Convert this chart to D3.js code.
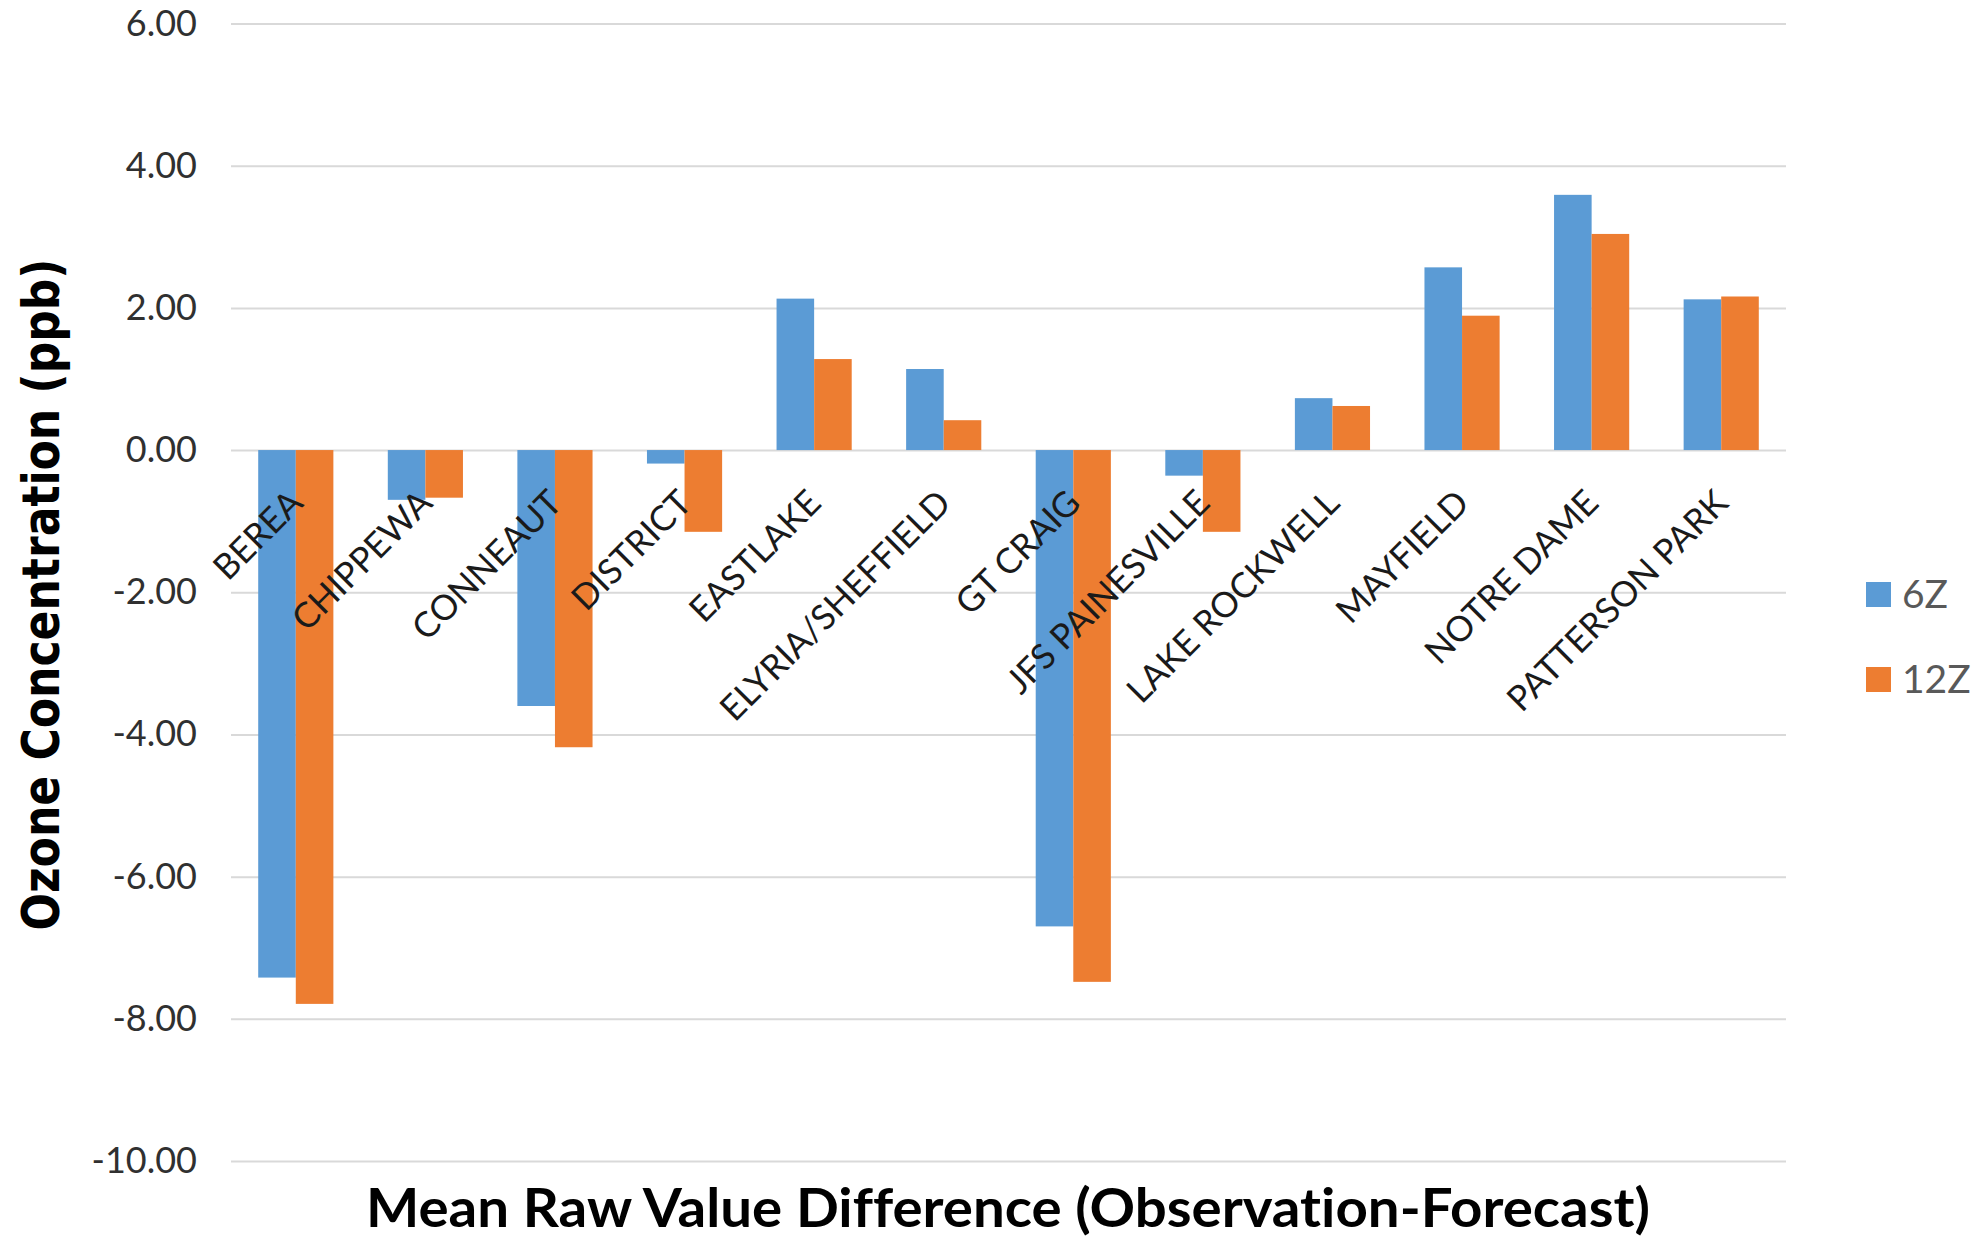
<!DOCTYPE html>
<html>
<head>
<meta charset="utf-8">
<script src="https://cdn.jsdelivr.net/npm/d3@7"></script>
<style>
  body { margin: 0; background: #fff; }
  #chart svg { display: block; }
  #chart text { font-variant-ligatures: none; }
</style>
</head>
<body>
<div id="chart"></div>
<script>
// Mean raw value difference per site, two forecast runs

const sites = [
  "BEREA", "CHIPPEWA", "CONNEAUT", "DISTRICT", "EASTLAKE", "ELYRIA/SHEFFIELD",
  "GT CRAIG", "JFS PAINESVILLE", "LAKE ROCKWELL", "MAYFIELD", "NOTRE DAME", "PATTERSON PARK",
]
const seriesNames = ["6Z", "12Z"]
const values6Z = [-7.42, -0.70, -3.60, -0.19, 2.13, 1.14, -6.70, -0.36, 0.73, 2.57, 3.59, 2.12]
const values12Z = [-7.79, -0.67, -4.18, -1.15, 1.28, 0.42, -7.48, -1.15, 0.62, 1.89, 3.04, 2.16]
const yTicks = [6, 4, 2, 0, -2, -4, -6, -8, -10]

const colors = { "6Z": "#5B9BD5", "12Z": "#ED7D31" }

const width = 1978
const height = 1240
const plot = { left: 231, right: 1786, top: 23.5, bottom: 1161 }

const svg = d3.select("#chart").append("svg").attr("width", width).attr("height", height)

const data = sites.map((site, i) => ({ site, "6Z": values6Z[i], "12Z": values12Z[i] }))

// Scales
const x0 = d3.scaleBand().domain(sites).range([plot.left, plot.right]).paddingInner(0.42).paddingOuter(0.21)
const x1 = d3.scaleBand().domain(seriesNames).range([0, x0.bandwidth()])
const y = d3.scaleLinear().domain([-10, 6]).range([plot.bottom, plot.top])

// Gridlines + tick labels (plain hyphen for negatives, like the original)
const fmt = d3.format(".2f")
const yAxis = d3
  .axisLeft(y)
  .tickValues(yTicks)
  .tickSize(-(plot.right - plot.left))
  .tickPadding(34)
  .tickFormat((d) => fmt(d).replace("\u2212", "-"))

const gy = svg.append("g").attr("transform", `translate(${plot.left},0)`).call(yAxis)
gy.select(".domain").remove()
gy.selectAll(".tick line").attr("stroke", "#D9D9D9").attr("stroke-width", 2)
gy.selectAll(".tick text")
  .attr("fill", "#303030")
  .style("font-family", "Lato, sans-serif")
  .style("font-size", "36px")

// Bars
const groups = svg
  .append("g")
  .selectAll("g")
  .data(data)
  .join("g")
  .attr("transform", (d) => `translate(${x0(d.site)},0)`)

groups
  .selectAll("rect")
  .data((d) => seriesNames.map((key) => ({ key, value: d[key] })))
  .join("rect")
  .attr("x", (d) => x1(d.key))
  .attr("width", x1.bandwidth())
  .attr("y", (d) => y(Math.max(0, d.value)))
  .attr("height", (d) => Math.abs(y(d.value) - y(0)))
  .attr("fill", (d) => colors[d.key])

// Category labels, rotated, drawn over the bars
svg
  .append("g")
  .selectAll("text")
  .data(sites)
  .join("text")
  .attr("transform", (d) => `translate(${x0(d) + x0.bandwidth() / 2 + 9},${y(0) + 55}) rotate(-45)`)
  .attr("text-anchor", "end")
  .attr("fill", "#1a1a1a")
  .style("font-family", "Lato, sans-serif")
  .style("font-size", "35px")
  .text((d) => d)

// Axis titles
svg
  .append("text")
  .attr("transform", `translate(59,${(258 + 931) / 2}) rotate(-90)`)
  .attr("text-anchor", "middle")
  .attr("textLength", 672)
  .attr("lengthAdjust", "spacingAndGlyphs")
  .style("font-family", "'DejaVu Sans', sans-serif")
  .style("font-weight", "bold")
  .style("font-size", "51px")
  .attr("fill", "#000")
  .text("Ozone Concentration (ppb)")

svg
  .append("text")
  .attr("x", 366)
  .attr("y", 1227)
  .attr("textLength", 1284)
  .attr("lengthAdjust", "spacingAndGlyphs")
  .style("font-family", "Lato, sans-serif")
  .style("font-weight", "bold")
  .style("font-size", "54px")
  .attr("fill", "#000")
  .text("Mean Raw Value Difference (Observation-Forecast)")

// Legend
const legend = svg
  .append("g")
  .selectAll("g")
  .data(seriesNames)
  .join("g")
  .attr("transform", (d, i) => `translate(1866,${582 + i * 85})`)

legend.append("rect").attr("width", 25).attr("height", 25).attr("fill", (d) => colors[d])

legend
  .append("text")
  .attr("x", 36)
  .attr("y", 26)
  .attr("fill", "#595959")
  .style("font-family", "Lato, sans-serif")
  .style("font-size", "39px")
  .text((d) => d)
</script>
</body>
</html>
